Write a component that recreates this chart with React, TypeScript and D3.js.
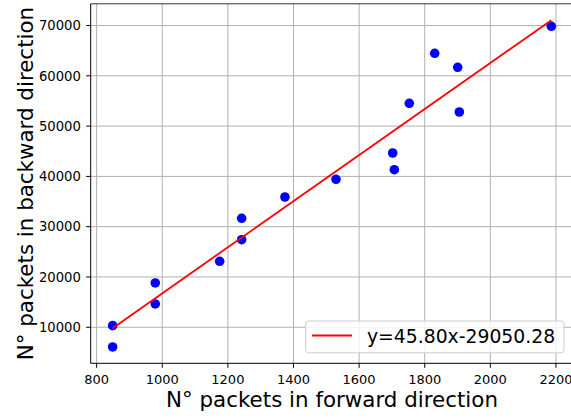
import React from "react";
import * as d3 from "d3";

const forwardPackets = [848.8, 848.8, 978.7, 978.7, 1175, 1242, 1242, 1374, 1529.6, 1702.4, 1707.3, 1830.5, 1900.6, 1753, 1905.5, 2186];
const backwardPackets = [10318, 6084, 18807, 14632, 23121, 31670, 27416, 35905, 39423, 44652, 41332, 64473, 61690, 54533, 52803, 69841];
const xTicks = [800, 1000, 1200, 1400, 1600, 1800, 2000, 2200];
const yTicks = [10000, 20000, 30000, 40000, 50000, 60000, 70000];
const slope = 45.8;
const intercept = -29050.28;
const legendLabel = "y=45.80x-29050.28";

export default function App() {
  const W = 571, H = 419;
  const left = 90.7, right = 573.3, top = 3.8, bottom = 363.3;
  const x = d3.scaleLinear().domain([781.9, 2252.9]).range([left, right]);
  const y = d3.scaleLinear().domain([2835, 74318]).range([bottom, top]);
  const [xmin, xmax] = d3.extent(forwardPackets) as [number, number];
  const lineGen = d3.line<number>().x(d => x(d)).y(d => y(slope * d + intercept));
  const font = "DejaVu Sans, sans-serif";
  return (
    <svg width={W} height={H} style={{ position: "absolute", left: 0, top: 0 }} fontFamily={font}>
      <rect width={W} height={H} fill="white" />
      {xTicks.map(t => (
        <line key={"gx" + t} x1={x(t)} x2={x(t)} y1={top} y2={bottom} stroke="#b0b0b0" strokeWidth={1} />
      ))}
      {yTicks.map(t => (
        <line key={"gy" + t} x1={left} x2={W} y1={y(t)} y2={y(t)} stroke="#b0b0b0" strokeWidth={1} />
      ))}
      {forwardPackets.map((v, i) => (
        <circle key={i} cx={x(v)} cy={y(backwardPackets[i])} r={4.8} fill="blue" />
      ))}
      <path d={lineGen([xmin, xmax]) || ""} fill="none" stroke="red" strokeWidth={1.8} />
      <line x1={left} x2={left} y1={top} y2={bottom} stroke="black" strokeWidth={1} />
      <line x1={left} x2={W} y1={bottom} y2={bottom} stroke="black" strokeWidth={1} />
      <line x1={left} x2={W} y1={top} y2={top} stroke="#333" strokeWidth={1} />
      {xTicks.map(t => (
        <g key={"tx" + t}>
          <line x1={x(t)} x2={x(t)} y1={bottom} y2={bottom + 4.5} stroke="black" strokeWidth={1} />
          <text x={x(t)} y={bottom + 21} textAnchor="middle" fontSize={13} fill="black">{t}</text>
        </g>
      ))}
      {yTicks.map(t => (
        <g key={"ty" + t}>
          <line x1={left - 4.5} x2={left} y1={y(t)} y2={y(t)} stroke="black" strokeWidth={1} />
          <text x={left - 9.8} y={y(t) + 4.7} textAnchor="end" fontSize={13.2} fill="black">{t}</text>
        </g>
      ))}
      <text x={(left + right) / 2} y={407} textAnchor="middle" fontSize={21.4} fill="black">N° packets in forward direction</text>
      <text transform={`translate(33.3,${(top + bottom) / 2}) rotate(-90)`} textAnchor="middle" fontSize={21.4} fill="black">N° packets in backward direction</text>
      <rect x={305.7} y={321} width={258.3} height={31.8} rx={3} fill="white" fillOpacity={0.8} stroke="#cccccc" strokeWidth={1} />
      <line x1={312} x2={352} y1={335.5} y2={335.5} stroke="red" strokeWidth={1.8} />
      <text x={367} y={343.3} fontSize={18.8} fill="black">{legendLabel}</text>
    </svg>
  );
}
